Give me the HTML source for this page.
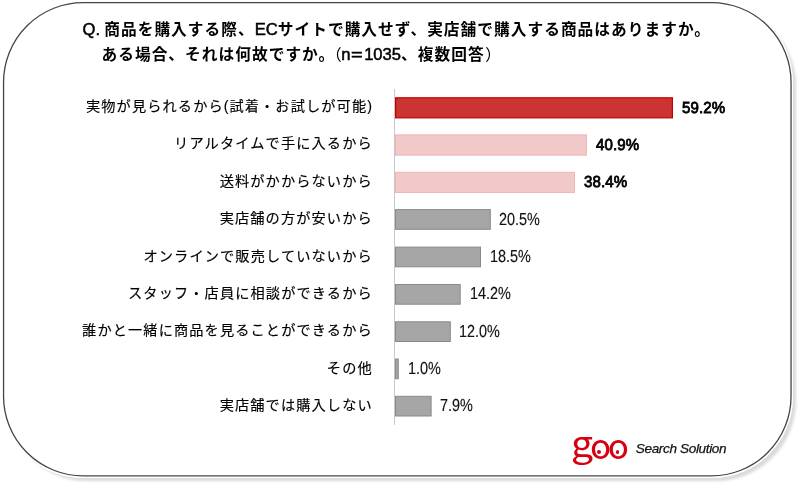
<!DOCTYPE html>
<html lang="ja">
<head>
<meta charset="utf-8">
<title>実店舗で購入する理由</title>
<style>
html,body{margin:0;padding:0;background:#fff;}
body{width:800px;height:485px;position:relative;overflow:hidden;font-family:"Liberation Sans","Noto Sans CJK JP",sans-serif;color:#000;}
.card{position:absolute;left:3px;top:2px;width:789px;height:474.5px;box-sizing:border-box;border-radius:80px;background:#fff;box-shadow:0 0 0 1.1px #fff,4px 4px 3px rgba(0,0,0,.15);}
.frame{position:absolute;left:0;top:0;}
.title{position:absolute;left:82.5px;font-size:15.7px;font-weight:700;line-height:24px;white-space:nowrap;letter-spacing:1.03px;}
.tp{font-weight:400;}
.title i{font-style:normal;letter-spacing:0;font-size:16.6px;font-weight:400;-webkit-text-stroke:.5px #000;}
.t1{top:17.6px;}
.t2{top:42.8px;left:101.5px;}
.lab{position:absolute;right:427.2px;margin-top:-.7px;font-size:14.2px;letter-spacing:1.13px;line-height:22px;height:22px;white-space:nowrap;text-align:right;color:#000;-webkit-text-stroke:.15px #000;}
.bars{position:absolute;left:0;top:0;}
.r{fill:#cc3333;stroke:#c00000;stroke-width:1.2;}
.p{fill:#f2c9c9;stroke:#eeb4b6;stroke-width:1;}
.g{fill:#a6a6a6;stroke:#898989;stroke-width:1;}
.val{position:absolute;text-rendering:geometricPrecision;font-size:17.4px;line-height:22px;height:22px;white-space:nowrap;color:#111;transform-origin:0 0;transform:scaleX(.83);-webkit-text-stroke:.15px #111;}
.b{font-weight:400;color:#000;-webkit-text-stroke:.8px #000;font-size:15.2px;letter-spacing:.15px;transform-origin:0 16.27px;transform:scale(.99,1.05);}
.pa{margin:0 -.3px 0 0;}
.logo{position:absolute;left:0;top:0;font-family:"Noto Sans CJK JP",sans-serif;font-weight:400;color:#d7000f;}
.logo span{position:absolute;font-size:35px;line-height:40px;height:40px;transform-origin:0 0;}
.lg{left:570.7px;top:420.8px;transform:scale(1.12,1.04);}
.lo{top:423.7px;}
.lo1{left:590px;}
.lo2{left:607.8px;}
.eye{position:absolute;top:449.9px;width:3.8px;height:3.8px;border-radius:50%;background:#d7000f;}
.ss{position:absolute;left:635.8px;top:440.4px;font-size:13.6px;font-style:italic;line-height:18px;white-space:nowrap;color:#111;letter-spacing:-.37px;-webkit-text-stroke:.25px #111;}
</style>
</head>
<body>
<div class="card"></div>
<svg class="frame" width="800" height="485" viewBox="0 0 800 485"><rect x="3.55" y="2.65" width="787.5" height="473.2" rx="79.5" ry="79.5" fill="none" stroke="#484444" stroke-width="1.3"/></svg>
<div class="title t1"><i style="margin-right:-.4px">Q. </i>商品を購入する際、<i>EC</i>サイトで購入せず、実店舗で購入する商品はありますか。</div>
<div class="title t2">ある場合、それは何故ですか。<b class="tp" style="margin-left:-1.4px">（</b><i style="margin-left:-1.4px">n</i><i style="display:inline-block;transform:scaleX(1.2);margin:0 2.5px 0 1.4px">=</i><i style="letter-spacing:-.05px;margin-right:.2px">1035</i>、複数回答<b class="tp" style="margin-left:.6px">）</b></div>

<svg class="bars" width="800" height="485" viewBox="0 0 800 485">
<line x1="394.5" y1="89" x2="394.5" y2="424.8" stroke="#c8c8c8" stroke-width="1"/>
<rect class="r" x="395.60" y="97.80" width="276.80" height="20.05"/>
<rect class="p" x="395.50" y="134.90" width="190.90" height="20.25"/>
<rect class="p" x="395.50" y="172.30" width="179.00" height="20.25"/>
<rect class="g" x="395.50" y="209.60" width="94.80" height="19.70"/>
<rect class="g" x="395.50" y="247.10" width="85.00" height="19.70"/>
<rect class="g" x="395.50" y="284.50" width="64.70" height="19.70"/>
<rect class="g" x="395.50" y="321.80" width="54.80" height="19.70"/>
<rect class="g" x="395.50" y="359.00" width="2.80" height="19.70"/>
<rect class="g" x="395.50" y="396.30" width="35.60" height="19.70"/>
</svg>

<div class="lab" style="top:96px">実物が見られるから<span class="pa">(</span>試着・お試しが可能<span class="pa">)</span></div>
<div class="lab" style="top:133px">リアルタイムで手に入るから</div>
<div class="lab" style="top:171px">送料がかからないから</div>
<div class="lab" style="top:208px">実店舗の方が安いから</div>
<div class="lab" style="top:246px">オンラインで販売していないから</div>
<div class="lab" style="top:283px">スタッフ・店員に相談ができるから</div>
<div class="lab" style="top:320px">誰かと一緒に商品を見ることができるから</div>
<div class="lab" style="top:358px">その他</div>
<div class="lab" style="top:395px">実店舗では購入しない</div>



<div class="val b" style="left:681.7px;top:97.8px">59.2%</div>
<div class="val b" style="left:595.9px;top:134.63px">40.9%</div>
<div class="val b" style="left:584.2px;top:171.8px">38.4%</div>
<div class="val" style="left:498.7px;top:207.54px">20.5%</div>
<div class="val" style="left:489.8px;top:244.87px">18.5%</div>
<div class="val" style="left:469.8px;top:282.20px">14.2%</div>
<div class="val" style="left:459.4px;top:319.53px">12.0%</div>
<div class="val" style="left:407.7px;top:356.86px">1.0%</div>
<div class="val" style="left:440.4px;top:394.19px">7.9%</div>
<div class="logo"><span class="lg">g</span><span class="lo lo1">o</span><span class="lo lo2">o</span><i class="eye" style="left:596.9px"></i><i class="eye" style="left:615.5px"></i></div>
<div class="ss">Search Solution</div>
</body>
</html>
